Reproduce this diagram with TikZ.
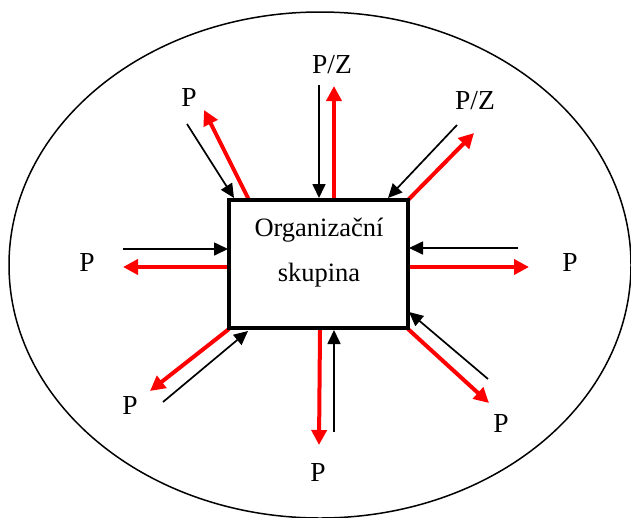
\documentclass[tikz,border=0pt]{standalone}
\usepackage{fontspec}
\setmainfont{Liberation Serif}
\usetikzlibrary{arrows.meta}
\begin{document}
\begin{tikzpicture}[x=1pt,y=-1pt,
  lbl/.style={font=\fontsize{27.5}{30}\selectfont, inner sep=0pt},
  inarr/.style={draw=black, line width=1.7pt, -{Triangle[length=14pt,width=13pt]}},
  outarr/.style={draw=red, line width=4pt, -{Triangle[length=15pt,width=15pt]}}]
\useasboundingbox (0,0) rectangle (631,517);
\draw[line width=1.5pt] (320,265) ellipse [x radius=311, y radius=253];
\node[draw, line width=4pt, minimum width=179pt, minimum height=128pt, inner sep=0pt] (box) at (318.5,264) {};
\node[font=\fontsize{26.5}{45}\selectfont, align=center, inner sep=0pt] (txt) at (319,253) {Organizační\\skupina};
% labels
\node[lbl] (lt) at (332,65) {P/Z};
\node[lbl] (lul) at (189,97) {P};
\node[lbl] (lur) at (475,101) {P/Z};
\node[lbl] (ll) at (87,262) {P};
\node[lbl] (lr) at (570,262) {P};
\node[lbl] (lll) at (130,405) {P};
\node[lbl] (lb) at (318,472) {P};
\node[lbl] (llr) at (501,423) {P};
% coordinates
\coordinate (t1) at (319,85);   \coordinate (t1e) at (319,198);
\coordinate (t2s) at (334,198); \coordinate (t2) at (334,86);
\coordinate (ul1) at (187,124); \coordinate (ul1e) at (234,198);
\coordinate (ul2s) at (249,200);\coordinate (ul2) at (204,110);
\coordinate (ur1) at (457,125); \coordinate (ur1e) at (388,198);
\coordinate (ur2s) at (408,200);\coordinate (ur2) at (474,133);
\coordinate (l1) at (123,249);  \coordinate (l1e) at (228,249);
\coordinate (l2s) at (229,267); \coordinate (l2) at (123,267);
\coordinate (r1) at (518,248);  \coordinate (r1e) at (409,248);
\coordinate (r2s) at (408,267); \coordinate (r2) at (529,267);
\coordinate (ll2s) at (229,329);\coordinate (ll2) at (150,391);
\coordinate (ll1) at (163,402); \coordinate (ll1e) at (248,331);
\coordinate (b2s) at (320,330); \coordinate (b2) at (319,445);
\coordinate (b1) at (334,432);  \coordinate (b1e) at (334,330);
\coordinate (lr1) at (488,379); \coordinate (lr1e) at (409,312);
\coordinate (lr2s) at (408,329);\coordinate (lr2) at (489,403);
% arrows
\draw[inarr] (t1) -- (t1e);
\draw[outarr] (t2s) -- (t2);
\draw[inarr] (ul1) -- (ul1e);
\draw[outarr] (ul2s) -- (ul2);
\draw[inarr] (ur1) -- (ur1e);
\draw[outarr] (ur2s) -- (ur2);
\draw[inarr] (l1) -- (l1e);
\draw[outarr] (l2s) -- (l2);
\draw[inarr] (r1) -- (r1e);
\draw[outarr] (r2s) -- (r2);
\draw[outarr] (ll2s) -- (ll2);
\draw[inarr] (ll1) -- (ll1e);
\draw[outarr] (b2s) -- (b2);
\draw[inarr] (b1) -- (b1e);
\draw[inarr] (lr1) -- (lr1e);
\draw[outarr] (lr2s) -- (lr2);
\node[draw, line width=4pt, minimum width=179pt, minimum height=128pt, inner sep=0pt] at (box) {};
\end{tikzpicture}
\end{document}
